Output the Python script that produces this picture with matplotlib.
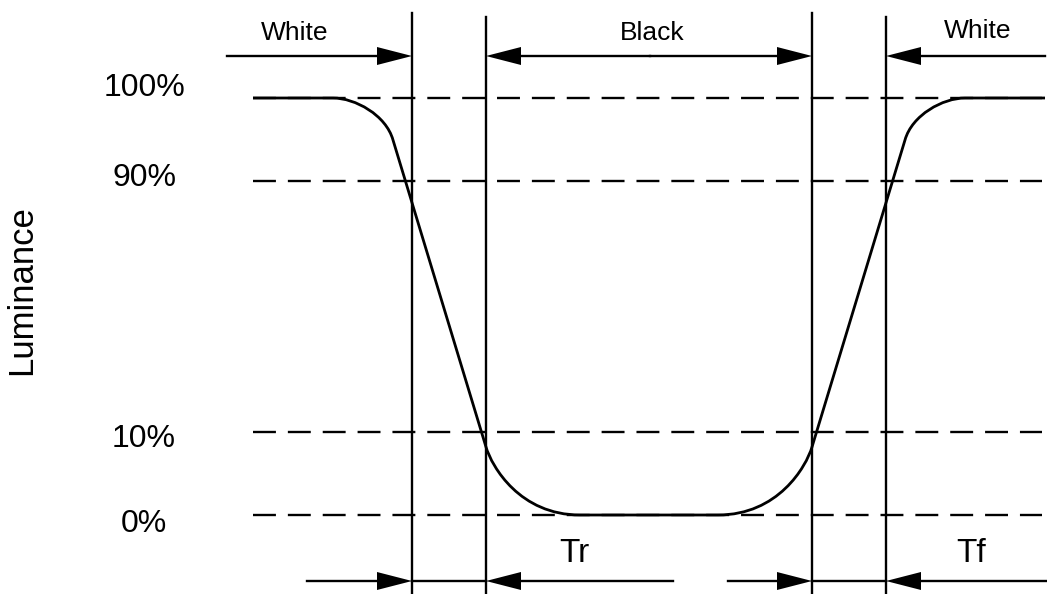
import matplotlib
matplotlib.use('Agg')
import matplotlib.pyplot as plt
from matplotlib.path import Path
from matplotlib.patches import PathPatch, Polygon

plt.rcParams['font.family'] = ['Liberation Sans', 'DejaVu Sans']
plt.rcParams['lines.scale_dashes'] = False

# Canvas units: 1 unit = 1 pixel, y grows downward
W, H = 1047, 594

# Luminance reference levels (dashed lines + labels)
level_labels = ['100%', '90%', '10%', '0%']
level_y = [98, 181, 432, 515]
level_label_y = [88, 178, 439, 524]
dash_x = [253, 1042]

# Timing markers (vertical lines) and their top ends
edge_x = [412, 486, 812, 886]
edge_top = [13, 17, 13, 17]

# Luminance response curve (bezier vertices)
curve_pts = [(253, 98), (333, 98),
             (355, 98), (386, 115), (393, 140),
             (486, 447),
             (492, 467), (520, 515), (580, 515),
             (718, 515),
             (778, 515), (806, 467), (812, 447),
             (905, 140),
             (912, 115), (943, 98), (965, 98),
             (1045, 98)]
curve_codes = [Path.MOVETO, Path.LINETO,
               Path.CURVE4, Path.CURVE4, Path.CURVE4,
               Path.LINETO,
               Path.CURVE4, Path.CURVE4, Path.CURVE4,
               Path.LINETO,
               Path.CURVE4, Path.CURVE4, Path.CURVE4,
               Path.LINETO,
               Path.CURVE4, Path.CURVE4, Path.CURVE4,
               Path.LINETO]

# Dimension arrows: (x_start, x_tip, y), head drawn at x_tip
top_y, bot_y = 56, 581
arrows = [(227, 412, top_y), (650, 486, top_y), (650, 812, top_y), (1045, 886, top_y),
          (307, 412, bot_y), (673, 486, bot_y), (728, 812, bot_y), (1047, 886, bot_y)]
plain_segments = [(412, 486, bot_y), (812, 886, bot_y)]

# Text labels
labels = [('White', 295, 33, 19), ('Black', 652, 33, 19), ('White', 978, 31, 19),
          ('Tr', 574, 554, 24), ('Tf', 971, 554, 24)]

fig = plt.figure(figsize=(W / 100, H / 100), dpi=100)
ax = fig.add_axes([0, 0, 1, 1])
ax.set_xlim(0, W)
ax.set_ylim(H, 0)
ax.axis('off')

lw = 1.7
for y in level_y:
    ax.plot(dash_x, [y, y], color='black', lw=lw, dashes=(16.5, 8.6))

for x, top in zip(edge_x, edge_top):
    ax.plot([x, x], [top, H], color='black', lw=lw)

ax.add_patch(PathPatch(Path(curve_pts, curve_codes), facecolor='none',
                       edgecolor='black', lw=2.0))

head_len, head_half = 35, 9
for x0, x1, y in arrows:
    d = 1 if x1 > x0 else -1
    ax.plot([x0, x1 - d * head_len], [y, y], color='black', lw=lw)
    ax.add_patch(Polygon([(x1, y), (x1 - d * head_len, y - head_half),
                          (x1 - d * head_len, y + head_half)],
                         closed=True, color='black', lw=0))
for x0, x1, y in plain_segments:
    ax.plot([x0, x1], [y, y], color='black', lw=lw)

for lab, y in zip(level_labels, level_label_y):
    ax.text(144, y, lab, fontsize=23, ha='center', va='center')

for txt, x, y, fs in labels:
    ax.text(x, y, txt, fontsize=fs, ha='center', va='center')

ax.text(22, 290, 'Luminance', fontsize=25, rotation=90, ha='center', va='center')

plt.savefig('out.png', dpi=100)
